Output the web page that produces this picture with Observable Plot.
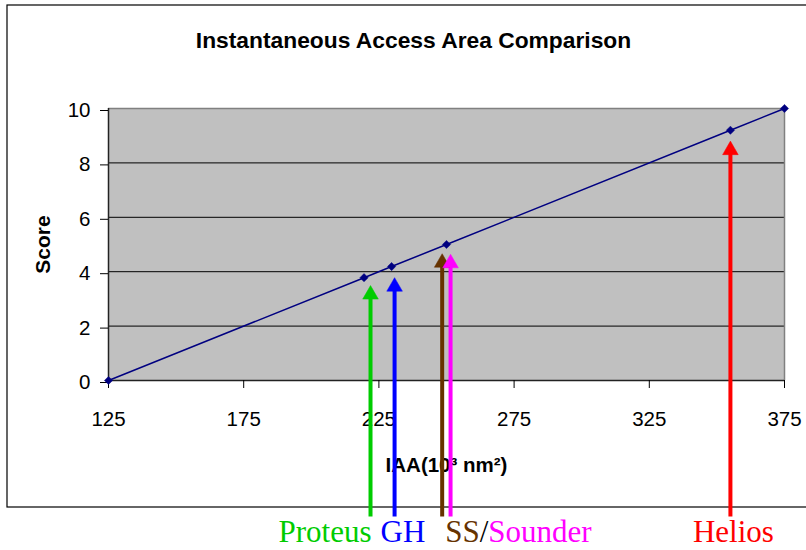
<!DOCTYPE html>
<html>
<head>
<meta charset="utf-8">
<script src="https://cdn.jsdelivr.net/npm/d3@7"></script>
<script src="https://cdn.jsdelivr.net/npm/@observablehq/plot@0.6"></script>
<style>
  html, body { margin: 0; padding: 0; background: #fff; }
  #chart { width: 806px; height: 550px; overflow: hidden; }
</style>
</head>
<body>
<div id="chart"></div>
<script>
// ---- Data ----
const title = "Instantaneous Access Area Comparison";
const xLabel = "IAA(10³ nm²)";
const yLabel = "Score";

const iaa   = [125, 219.5, 229.7, 250, 355, 375];
const score = [0, 3.78, 4.19, 5.0, 9.2, 10];

const systems      = ["Proteus", "GH", "SS", "Sounder", "Helios"];
const systemIAA    = [221.9, 230.8, 248.4, 251.5, 355.0];
const systemLevel  = [3.49, 3.78, 4.66, 4.64, 8.80];
const systemColors = ["#00cc00", "#0000ff", "#663300", "#ff00ff", "#ff0000"];

const xTicks = [125, 175, 225, 275, 325, 375];
const yTicks = [0, 2, 4, 6, 8, 10];

// ---- Build tables ----
const points = iaa.map((x, i) => ({x, y: score[i]}));
const arrows = systems.map((name, i) => ({name, x: systemIAA[i], tip: systemLevel[i], color: systemColors[i]}));
const byName = n => arrows.filter(d => d.name === n);

const arrowBase = -5.0;       // arrows run below the plot frame
const sans = "'Liberation Sans', Arial, sans-serif";
const serif = "'Liberation Serif', 'Times New Roman', serif";
const labelSize = 31;
const labelDy = 161;

const plot = Plot.plot({
  width: 806,
  height: 550,
  marginLeft: 108,
  marginRight: 22,
  marginTop: 108,
  marginBottom: 170,
  x: {domain: [125, 375]},
  y: {domain: [0, 10]},
  style: {fontFamily: sans, fontSize: "20px", background: "white", overflow: "visible", color: "black"},
  marks: [
    Plot.frame({fill: "#c0c0c0", stroke: null}),
    Plot.ruleY(yTicks.filter(d => d > 0 && d < 10), {stroke: "black", strokeWidth: 1}),
    Plot.ruleY([10], {stroke: "#808080", strokeWidth: 1.5}),
    Plot.ruleX([375], {stroke: "#808080", strokeWidth: 1.5}),
    Plot.ruleY([0], {stroke: "#222", strokeWidth: 1.5}),
    Plot.ruleX([125], {stroke: "#222", strokeWidth: 1.5}),
    Plot.axisY({ticks: yTicks, tickSize: 8, tickPadding: 10, fontSize: 20.5, label: null, dy: 2}),
    Plot.axisX({ticks: xTicks, tickSize: 8, tickPadding: 23, fontSize: 20.5, label: null}),
    Plot.text([title], {frameAnchor: "top", dx: -33, dy: -68, fontSize: 22.8, fontWeight: "bold", lineAnchor: "middle", textAnchor: "middle", fill: "black"}),
    Plot.text([yLabel], {frameAnchor: "left", dx: -65, rotate: -90, fontSize: 21, fontWeight: "bold", lineAnchor: "middle", textAnchor: "middle", fill: "black"}),
    Plot.text([xLabel], {frameAnchor: "bottom", dy: 85, fontSize: 20.5, fontWeight: "bold", lineAnchor: "middle", textAnchor: "middle", fill: "black"}),
    Plot.line(points, {x: "x", y: "y", stroke: "#000080", strokeWidth: 1.5}),
    Plot.dot(points, {x: "x", y: "y", symbol: "diamond2", r: 3.7, fill: "#000080", stroke: "#000080", strokeWidth: 0.5}),
    // arrows: shafts + filled heads
    Plot.link(arrows, {x1: "x", x2: "x", y1: () => arrowBase, y2: d => d.tip - 0.4, stroke: "color", strokeWidth: 4}),
    Plot.dot(arrows, {x: "x", y: "tip", symbol: "triangle", r: 5.8, dy: 9, fill: "color", stroke: "color", strokeWidth: 0.5}),
    // labels
    Plot.text(byName("Proteus"), {x: "x", text: "name", frameAnchor: "bottom", dy: labelDy, dx: 1, textAnchor: "end", lineAnchor: "bottom", fill: "color", fontFamily: serif, fontSize: labelSize}),
    Plot.text(byName("GH"), {x: "x", text: "name", frameAnchor: "bottom", dy: labelDy, dx: -14, textAnchor: "start", lineAnchor: "bottom", fill: "color", fontFamily: serif, fontSize: labelSize}),
    Plot.text(byName("SS"), {x: "x", text: "name", frameAnchor: "bottom", dy: labelDy, dx: 3, textAnchor: "start", lineAnchor: "bottom", fill: "color", fontFamily: serif, fontSize: labelSize}),
    Plot.text(byName("SS"), {x: "x", text: () => "/", frameAnchor: "bottom", dy: labelDy, dx: 3 + 0.556 * 2 * labelSize, textAnchor: "start", lineAnchor: "bottom", fill: "black", fontFamily: serif, fontSize: labelSize}),
    Plot.text(byName("SS"), {x: "x", text: () => "Sounder", frameAnchor: "bottom", dy: labelDy, dx: 3 + (0.556 * 2 + 0.278) * labelSize, textAnchor: "start", lineAnchor: "bottom", fill: systemColors[3], fontFamily: serif, fontSize: labelSize}),
    Plot.text(byName("Helios"), {x: "x", text: "name", frameAnchor: "bottom", dy: labelDy, dx: 3, textAnchor: "middle", lineAnchor: "bottom", fill: "color", fontFamily: serif, fontSize: labelSize})
  ]
});

// outer chart-area border (decoration), placed behind the marks
d3.select(plot).insert("rect", ":first-child")
  .attr("x", 7).attr("y", 5).attr("width", 830).attr("height", 502)
  .attr("fill", "none").attr("stroke", "black").attr("stroke-width", 1.2);

document.getElementById("chart").appendChild(plot);
</script>
</body>
</html>
